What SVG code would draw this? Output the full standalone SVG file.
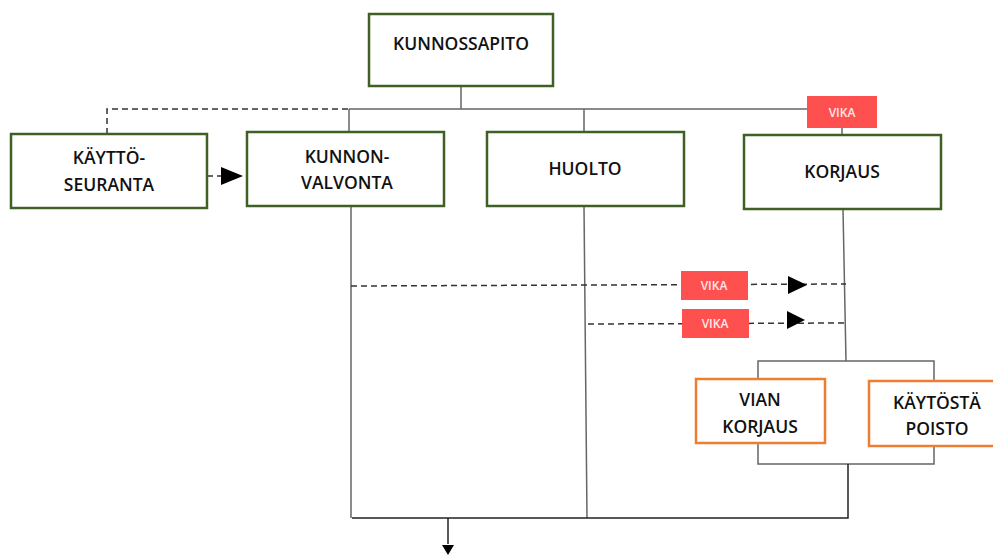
<svg xmlns="http://www.w3.org/2000/svg" width="993" height="555" viewBox="0 0 993 555">
<defs>
<style>
.g{fill:#fff;stroke:#3f5f24;stroke-width:2.5}
.o{fill:#fff;stroke:#ed7d31;stroke-width:2.5}
.v{fill:#ff5050}
.t{font-family:"Open Sans","Liberation Sans",sans-serif;font-size:17.5px;font-weight:600;fill:#111;text-anchor:middle}
.vt{font-family:"Open Sans","Liberation Sans",sans-serif;font-size:12px;font-weight:600;fill:#ffe8e8;text-anchor:middle}
.l{fill:none;stroke:#666;stroke-width:1.5}
.k{fill:none;stroke:#222;stroke-width:1.5}
.d{fill:none;stroke:#333;stroke-width:1.5;stroke-dasharray:6 4}
</style>
</defs>
<g id="connectors">
<path class="l" d="M461,86 V109 M349,109 H807 M349,109 V132 M584,109 V132 M842,128 V135"/>
<path class="d" d="M107,134 V109 H349"/>
<path class="d" d="M207,176 H221"/>
<path d="M221,167 L243,176 L221,185 z" fill="#000"/>
<path class="l" d="M351,206 V518 M584,206 L587,518 M843,209 L846,361"/>
<path class="d" d="M351,286 L846,284"/>
<path d="M788,276 L807,285 L788,294 z" fill="#000"/>
<path class="d" d="M588,324 L846,323"/>
<path d="M787,311 L805,320 L787,329 z" fill="#000"/>
<path class="l" d="M758,379 V361 H934 V381 M758,443 V464 H934 V446"/>
<path class="k" d="M848,464 V518 H352"/>
<path class="k" d="M448,518 V544"/>
<path d="M442,545 L448,555 L454,545 z" fill="#000"/>
</g>
<g id="kunnossapito"><rect class="g" x="369" y="14" width="184" height="72"/><text class="t" x="461" y="50">KUNNOSSAPITO</text></g>
<g id="kayttoseuranta"><rect class="g" x="11" y="134" width="196" height="74"/><text class="t" x="109" y="164">KÄYTTÖ-</text><text class="t" x="109" y="191">SEURANTA</text></g>
<g id="kunnonvalvonta"><rect class="g" x="247" y="132" width="197" height="74"/><text class="t" x="347" y="163">KUNNON-</text><text class="t" x="347" y="189">VALVONTA</text></g>
<g id="huolto"><rect class="g" x="487" y="132" width="197" height="74"/><text class="t" x="585" y="175">HUOLTO</text></g>
<g id="korjaus"><rect class="g" x="744" y="135" width="197" height="74"/><text class="t" x="842" y="178">KORJAUS</text></g>
<g id="vika1"><rect class="v" x="807" y="96" width="70" height="32"/><text class="vt" x="842" y="117">VIKA</text></g>
<g id="vika2"><rect class="v" x="681" y="271" width="67" height="29"/><text class="vt" x="714" y="290">VIKA</text></g>
<g id="vika3"><rect class="v" x="682" y="309" width="67" height="29"/><text class="vt" x="715" y="328">VIKA</text></g>
<g id="vianKorjaus"><rect class="o" x="696" y="379" width="129" height="64"/><text class="t" x="760" y="406">VIAN</text><text class="t" x="760" y="433">KORJAUS</text></g>
<g id="kaytostaPoisto"><rect class="o" x="869" y="381" width="130" height="65"/><text class="t" x="937" y="409">KÄYTÖSTÄ</text><text class="t" x="937" y="435">POISTO</text></g>
</svg>
